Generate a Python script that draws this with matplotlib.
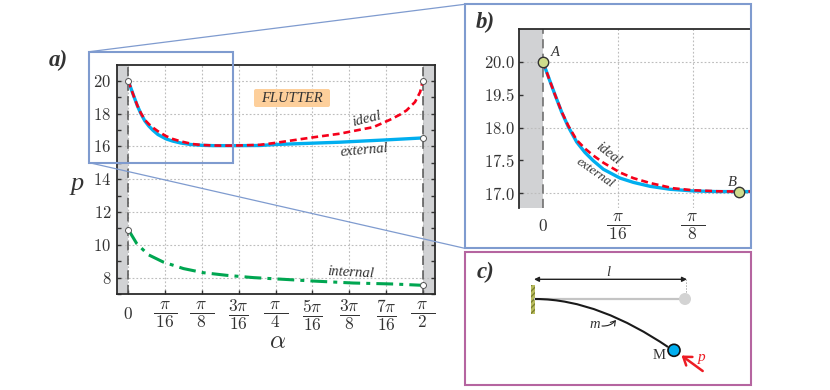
import numpy as np
import matplotlib
matplotlib.use("Agg")
import matplotlib.pyplot as plt
from matplotlib.patches import Rectangle, Circle, FancyArrowPatch, FancyBboxPatch, PathPatch
from matplotlib.path import Path

plt.rcParams['mathtext.fontset'] = 'cm'
plt.rcParams['font.family'] = ['Liberation Serif', 'DejaVu Serif']

# alpha expressed in multiples of pi/16
ext_x = [0, 0.084, 0.16, 0.249, 0.338, 0.449, 0.56, 0.67, 0.804, 1.027, 1.204, 1.427, 1.693, 2.0, 2.316, 2.61, 3.0, 3.58, 4, 5, 5.75, 6, 7, 8]
ext_y = [20.0, 19.47, 19.0, 18.47, 18.02, 17.56, 17.24, 16.99, 16.73, 16.46, 16.33, 16.21, 16.12, 16.07, 16.05, 16.05, 16.05, 16.06, 16.12, 16.20, 16.26, 16.29, 16.40, 16.52]
ideal_x = [0, 0.084, 0.16, 0.249, 0.338, 0.449, 0.56, 0.67, 0.804, 1.027, 1.204, 1.427, 1.738, 2.0, 2.316, 2.61, 3.0, 3.58, 4, 5, 5.75, 6.2, 6.66, 7.11, 7.38, 7.56, 7.79, 7.93, 8]
ideal_y = [20.0, 19.47, 19.0, 18.48, 18.05, 17.62, 17.36, 17.15, 16.93, 16.63, 16.46, 16.31, 16.15, 16.09, 16.06, 16.05, 16.06, 16.10, 16.22, 16.55, 16.78, 16.98, 17.18, 17.63, 17.94, 18.20, 18.71, 19.32, 20.0]
int_x = [0, 0.228, 0.54, 0.95, 1.5, 2.04, 2.67, 3.4, 4.03, 5.03, 6.11, 7.2, 8]
int_y = [10.93, 10.08, 9.40, 8.95, 8.55, 8.30, 8.14, 8.00, 7.92, 7.79, 7.67, 7.61, 7.53]
end_x = [0, 8, 8, 0, 8]
end_y = [20.0, 20.0, 16.52, 10.93, 7.53]
pts_x = [0, 2.61]
pts_y = [20.0, 16.05]

a_xticks = [0, 1, 2, 3, 4, 5, 6, 7, 8]
a_xlabels = ['$0$', r'$\dfrac{\,\pi\,}{\,16\,}$', r'$\dfrac{\;\,\pi\;\,}{\;\,8\;\,}$', r'$\dfrac{3\pi}{16}$',
             r'$\dfrac{\;\,\pi\;\,}{\;\,4\;\,}$', r'$\dfrac{5\pi}{16}$', r'$\dfrac{3\pi}{8}$', r'$\dfrac{7\pi}{16}$',
             r'$\dfrac{\;\,\pi\;\,}{\;\,2\;\,}$']
a_yticks = [8, 10, 12, 14, 16, 18, 20]
a_yminor = [7, 8, 9, 10, 11, 12, 13, 14, 15, 16, 17, 18, 19, 20]
b_xticks = [0, 1, 2]
b_xlabels = a_xlabels[:3]
b_ytick_pos = [16, 17, 18, 19, 20]
b_ylabels = ['17.0', '17.5', '18.0', '19.5', '20.0']
b_grid = [16, 18, 20]

TXT = '#333333'
BAND = '#d1d2d4'
BLUE = '#00aeef'
RED = '#ed1c24'
GREEN = '#00a651'
W, H = 830, 390

def add_ax(l, t, r, b):
    return fig.add_axes([l / W, 1 - b / H, (r - l) / W, (b - t) / H])

def curves(ax):
    ax.plot(ext_x, ext_y, color=BLUE, lw=2.4, zorder=3, solid_joinstyle='round')
    ax.plot(ideal_x, ideal_y, color='#f5001a', lw=1.9, ls=(0, (2.6, 1.5)), zorder=4)

fig = plt.figure(figsize=(W / 100, H / 100), dpi=100)

# ---- panel a
ax = add_ax(117, 64.5, 435, 294)
ax.set_xlim(-0.307, 8.334)
ax.set_ylim(7, 21)
ax.axvspan(-0.307, 0, color=BAND, lw=0, zorder=0)
ax.axvspan(8, 8.334, color=BAND, lw=0, zorder=0)
ax.grid(True, color='#bdbdbd', lw=0.8, ls=(0, (1.6, 1.8)), zorder=1)
for xv in (0, 8):
    ax.axvline(xv, color='#555555', lw=1.1, ls=(0, (6, 3.5)), zorder=2)
curves(ax)
ax.plot(int_x, int_y, color=GREEN, lw=2.2, ls=(0, (5.5, 2, 1.3, 2)), zorder=3)
ax.plot(end_x, end_y, 'o', ms=4.3, mfc='white', mec='#555555', mew=0.7, zorder=5)
ax.set_xticks(a_xticks)
ax.set_xticklabels(a_xlabels, fontsize=12.5, color=TXT, va='center')
ax.set_yticks(a_yticks)
ax.set_yticklabels([f'${v}$' for v in a_yticks], fontsize=12, color=TXT)
ax.set_yticks(a_yminor, minor=True)
ax.tick_params(axis='x', direction='in', length=3, width=1, pad=15, color='#333333')
ax.tick_params(axis='y', which='both', direction='in', length=3, width=1, pad=4, right=True, color='#333333')
for s in ax.spines.values():
    s.set_linewidth(1.3)
    s.set_color('#2b2b2b')

# ---- panel b
bx = add_ax(519.3, 29.3, 751, 208.3)
bx.set_xlim(-0.316, 2.77)
bx.set_ylim(15.54, 21.0)
bx.axvspan(-0.316, 0, color=BAND, lw=0, zorder=0)
bx.axvline(0, color='#666666', lw=1.1, ls=(0, (6, 3.5)), zorder=2)
for yv in b_grid:
    bx.axhline(yv, color='#bdbdbd', lw=0.8, ls=(0, (1.6, 1.8)), zorder=1)
for xv in b_xticks[1:]:
    bx.axvline(xv, color='#bdbdbd', lw=0.8, ls=(0, (1.6, 1.8)), zorder=1)
curves(bx)
bx.plot(pts_x, pts_y, 'o', ms=7.5, mfc='#cfdc8c', mec='#333333', mew=1.0, zorder=5, clip_on=False)
bx.set_xticks(b_xticks)
bx.set_xticklabels(b_xlabels, fontsize=12.5, color=TXT, va='center')
bx.set_yticks(b_ytick_pos)
bx.set_yticklabels([f'${v}$' for v in b_ylabels], fontsize=12, color=TXT)
bx.tick_params(axis='x', length=0, pad=13.5)
bx.tick_params(axis='y', direction='in', length=3, width=1, pad=3.5, color='#333333')
bx.spines['right'].set_visible(False)
bx.spines['bottom'].set_visible(False)
for s in ('left', 'top'):
    bx.spines[s].set_linewidth(1.3)
    bx.spines[s].set_color('#2b2b2b')

# ---- overlay in figure pixels: frames, connectors, labels, schematic
ov = fig.add_axes([0, 0, 1, 1], zorder=10)
ov.set_xlim(0, W)
ov.set_ylim(H, 0)
ov.axis('off')
ov.patch.set_alpha(0)
FRAME = '#7f9bcf'
ov.add_patch(Rectangle((89.3, 51.7), 143.4, 111, fill=False, ec=FRAME, lw=1.5))
ov.add_patch(Rectangle((464.7, 4.3), 286.3, 244, fill=False, ec=FRAME, lw=1.5))
ov.add_patch(Rectangle((465, 252.3), 286, 132.7, fill=False, ec='#b565a0', lw=1.5))
ov.plot([89.3, 464.7], [51.7, 4.3], color=FRAME, lw=0.9)
ov.plot([89.3, 464.7], [162.7, 248.3], color=FRAME, lw=0.9)

def label(x, y, s, size=10, rot=0, **kw):
    kw.setdefault('style', 'italic')
    kw.setdefault('color', TXT)
    ov.text(x, y, s, fontsize=size, rotation=rot, ha='center', va='center',
            rotation_mode='anchor', **kw)

label(58, 60, 'a)', 16.5, weight='bold')
label(485, 22, 'b)', 16.5, weight='bold')
label(485.5, 272, 'c)', 16.5, weight='bold')
label(77, 184, 'p', 19)
ov.text(278, 342, r'$\alpha$', fontsize=18, color=TXT, ha='center', va='center')
ov.add_patch(FancyBboxPatch((256, 91), 72, 14, boxstyle='round,pad=2,rounding_size=2', fc='#fdcf9b', ec='none'))
ov.text(292, 98, 'FLUTTER', fontsize=10.5, style='italic', color=TXT, ha='center', va='center')
label(367, 119, 'ideal', 10.5, 14)
label(364, 150, 'external', 10.5, 5)
label(351, 273, 'internal', 10.5, -3)
label(608, 154, 'ideal', 10, -38)
label(595, 173, 'external', 9.5, -35)
label(555, 52, 'A', 10.5)
label(732, 182, 'B', 10.5)

# schematic (figure pixels)
beam_vertices = [(535, 299), (580, 299), (625, 318), (668, 347)]
ov.add_patch(Rectangle((531.3, 285), 4, 28.5, fc='#b9bd5f', ec='#7d8030', lw=0, hatch='//////'))
ov.plot([535, 685], [299, 299], color='#c4c4c4', lw=1.6, zorder=2)
ov.add_patch(Circle((685, 299), 6, fc='#d3d3d3', ec='none', zorder=3))
ov.add_patch(PathPatch(Path(beam_vertices, [Path.MOVETO, Path.CURVE4, Path.CURVE4, Path.CURVE4]),
                       fc='none', ec='#1a1a1a', lw=1.5, zorder=4))
ov.add_patch(Circle((674, 350.3), 6, fc=BLUE, ec='#111111', lw=1.2, zorder=5))
ov.plot([686, 686], [279, 293], color='#aaaaaa', lw=0.7, ls=(0, (1.5, 1.5)))
ov.add_patch(FancyArrowPatch((534, 279.3), (687, 279.3), arrowstyle='<|-|>', mutation_scale=7,
                             color='#222222', lw=1.0, shrinkA=0, shrinkB=0))
ov.add_patch(FancyArrowPatch((702.7, 371), (681.5, 355.5), arrowstyle='->,head_length=2.7,head_width=1.9',
                             mutation_scale=2, color=RED, lw=1.8, shrinkA=0, shrinkB=0))
ov.add_patch(FancyArrowPatch((602, 326), (616, 320), connectionstyle='arc3,rad=0.25', arrowstyle='->,head_length=1.6,head_width=1',
                             mutation_scale=2, color='#222222', lw=0.8, shrinkA=0, shrinkB=0))
label(608, 273, 'l', 10.5)
label(595, 325, 'm', 10.5)
label(659, 355.5, 'M', 10.5, style='normal')
label(702, 358, 'p', 11, color=RED)

fig.savefig('out.png', dpi=100)
